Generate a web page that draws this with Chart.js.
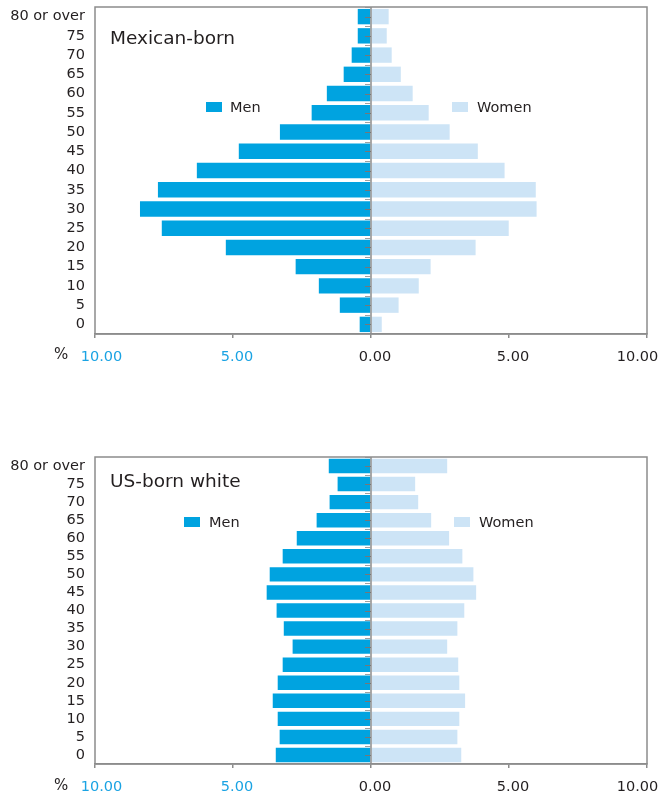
<!DOCTYPE html>
<html>
<head>
<meta charset="utf-8">
<script src="https://cdn.jsdelivr.net/npm/chart.js@4"></script>
<style>
  html, body { margin: 0; padding: 0; background: #fff; }
  body { width: 666px; height: 797px; position: relative; overflow: hidden; font-family: "DejaVu Sans", sans-serif; color: #231f20; }
  .wrap { position: absolute; left: 0; width: 666px; }
  .title { position: absolute; font-size: 18.5px; line-height: 1; white-space: nowrap; }
  .leg { position: absolute; font-size: 14.5px; line-height: 1; white-space: nowrap; }
  .sw { position: absolute; width: 16px; height: 10px; }
  .pct { position: absolute; font-size: 15px; line-height: 1; }
</style>
</head>
<body>
<div class="wrap" style="top:0;height:380px;"><canvas id="c1" width="666" height="380"></canvas></div>
<div class="wrap" style="top:440px;height:357px;"><canvas id="c2" width="666" height="357"></canvas></div>

<div class="title" style="left:110px;top:29px;">Mexican-born</div>
<div class="sw" style="left:206px;top:102px;background:#00a3e0;"></div>
<div class="leg" style="left:230px;top:100px;">Men</div>
<div class="sw" style="left:452px;top:102px;background:#cde4f6;"></div>
<div class="leg" style="left:477px;top:100px;">Women</div>
<div class="pct" style="left:54px;top:347px;">%</div>

<div class="title" style="left:110px;top:472px;">US-born white</div>
<div class="sw" style="left:184px;top:517px;background:#00a3e0;"></div>
<div class="leg" style="left:209px;top:515px;">Men</div>
<div class="sw" style="left:454px;top:517px;background:#cde4f6;"></div>
<div class="leg" style="left:479px;top:515px;">Women</div>
<div class="pct" style="left:54px;top:778px;">%</div>

<script>
// ---- data (percent of population, by 5-year age group) ----
const ageGroups = ["80 or over","75","70","65","60","55","50","45","40","35","30","25","20","15","10","5","0"];
const mexicanMen   = [0.48,0.48,0.70,0.99,1.60,2.15,3.30,4.79,6.31,7.72,8.37,7.58,5.26,2.73,1.89,1.13,0.41];
const mexicanWomen = [0.64,0.57,0.75,1.08,1.51,2.09,2.85,3.87,4.84,5.97,6.00,4.99,3.79,2.16,1.73,1.00,0.39];
const usWhiteMen   = [1.53,1.21,1.50,1.97,2.69,3.20,3.67,3.78,3.42,3.16,2.84,3.20,3.38,3.56,3.38,3.31,3.45];
const usWhiteWomen = [2.76,1.60,1.71,2.18,2.83,3.31,3.71,3.81,3.38,3.13,2.76,3.16,3.20,3.41,3.20,3.13,3.27];
const xTickValues = [-10, -5, 0, 5, 10];

const MEN_COLOR = '#00a3e0';
const WOMEN_COLOR = '#cde4f6';
const AXIS_COLOR = '#8c8c8c';
const TEXT_COLOR = '#231f20';
const NEG_TICK_COLOR = '#1aa3e3';

// small horizontal nudges of the outermost x tick labels (style only)
const EDGE_LABEL_NUDGE = { first: 2.5, last: -13.5 };

const frameAndZero = {
  id: 'frameAndZero',
  beforeDraw(chart) {
    const x = chart.scales.x;
    const items = x.getLabelItems(chart.chartArea);
    if (items && items.length && !items._nudged) {
      items[0].options.translation[0] += EDGE_LABEL_NUDGE.first;
      items[items.length - 1].options.translation[0] += EDGE_LABEL_NUDGE.last;
      items._nudged = true;
    }
  },
  afterDatasetsDraw(chart) {
    const {ctx, chartArea: a, scales: {x, y}} = chart;
    ctx.save();
    ctx.strokeStyle = AXIS_COLOR;
    const x0 = x.getPixelForValue(0);
    ctx.lineWidth = 1.5;
    ctx.beginPath();
    ctx.moveTo(x0, a.top); ctx.lineTo(x0, a.bottom);
    ctx.stroke();
    ctx.lineWidth = 1;
    const n = y.ticks.length;
    for (let i = 0; i < n; i++) {
      const yc = y.getPixelForValue(i);
      const half = (a.bottom - a.top) / n / 2;
      [yc - half, yc].forEach((yy, k) => {
        ctx.strokeStyle = k === 0 ? '#a0a0a0' : '#777';
        ctx.beginPath();
        ctx.moveTo(x0 - 6, Math.round(yy) + 0.5);
        ctx.lineTo(x0, Math.round(yy) + 0.5);
        ctx.stroke();
      });
    }
    ctx.strokeStyle = AXIS_COLOR;
    ctx.lineWidth = 1.5;
    ctx.strokeRect(a.left, a.top, a.right - a.left, a.bottom - a.top);
    ctx.restore();
  }
};

function makeChart(id, men, women, padTop, xAxisHeight) {
  return new Chart(document.getElementById(id), {
    type: 'bar',
    data: {
      labels: ageGroups,
      datasets: [
        { label: 'Men', data: men.map(v => -v), backgroundColor: MEN_COLOR, borderWidth: 0,
          categoryPercentage: 1.0, barPercentage: 0.8 },
        { label: 'Women', data: women, backgroundColor: WOMEN_COLOR, borderWidth: 0,
          categoryPercentage: 1.0, barPercentage: 0.8 }
      ]
    },
    options: {
      indexAxis: 'y',
      responsive: false,
      animation: false,
      layout: { padding: { top: padTop, right: 19, left: 0, bottom: 0 } },
      plugins: { legend: { display: false }, tooltip: { enabled: false } },
      scales: {
        x: {
          stacked: true,
          min: -10, max: 10,
          afterBuildTicks: s => { s.ticks = xTickValues.map(v => ({ value: v })); },
          afterFit: s => { s.height = xAxisHeight; s.paddingLeft = 0; s.paddingRight = 0; },
          grid: { display: true, drawOnChartArea: false, drawTicks: true, tickLength: 4, color: AXIS_COLOR, lineWidth: 1.5 },
          border: { display: true, color: AXIS_COLOR, width: 1.5 },
          ticks: {
            padding: 11,
            labelOffset: 4,
            maxRotation: 0,
            autoSkip: false,
            font: { family: 'DejaVu Sans', size: 14.5 },
            color: c => (c.tick && c.tick.value < 0) ? NEG_TICK_COLOR : TEXT_COLOR,
            callback: v => Math.abs(v).toFixed(2)
          }
        },
        y: {
          stacked: true,
          afterFit: s => { s.width = 95; s.paddingTop = 0; s.paddingBottom = 0; },
          grid: { display: false, drawTicks: false },
          border: { display: false },
          ticks: {
            padding: 10,
            autoSkip: false,
            font: { family: 'DejaVu Sans', size: 14.5 },
            color: TEXT_COLOR
          }
        }
      }
    },
    plugins: [frameAndZero]
  });
}

makeChart('c1', mexicanMen, mexicanWomen, 7, 46);
makeChart('c2', usWhiteMen, usWhiteWomen, 17, 33);
</script>
</body>
</html>
